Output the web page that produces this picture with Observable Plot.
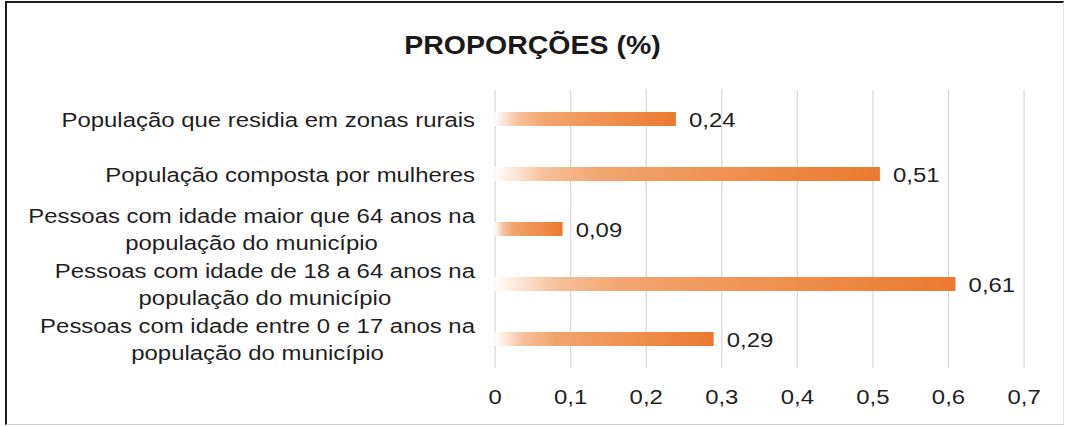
<!DOCTYPE html>
<html>
<head>
<meta charset="utf-8">
<script src="https://cdn.jsdelivr.net/npm/d3@7"></script>
<script src="https://cdn.jsdelivr.net/npm/@observablehq/plot@0.6"></script>
<style>
  html, body { margin: 0; padding: 0; background: #fff; width: 1066px; height: 427px; overflow: hidden; }
  body { position: relative; font-family: "Liberation Sans", Arial, sans-serif; }
  #frame { position: absolute; left: 5px; top: 1px; width: 1059px; height: 424px; border-top: 2px solid #1a1a1a; border-left: 2px solid #1a1a1a; border-right: 1px solid #e4e4e4; border-bottom: 1px solid #cfcfcf; box-sizing: border-box; pointer-events: none; }
  #cover { position: absolute; left: 1064px; top: 0; width: 2px; height: 427px; background: #fff; }
  #titlewrap { position: absolute; left: 3px; top: 33px; width: 1060px; text-align: center; }
  #title { display: inline-block; font: bold 25px/25px "Liberation Sans", Arial, sans-serif; color: #1a1a1a; transform: scaleX(1.14); transform-origin: 50% 50%; }
  #chart { position: absolute; left: 0; top: 70px; width: 935px; transform: scaleX(1.14); transform-origin: 0 0; }
</style>
</head>
<body>
<div id="titlewrap"><div id="title">PROPORÇÕES (%)</div></div>
<div id="chart"></div>
<div id="frame"></div>
<div id="cover"></div>
<script>
const categories = [
  "População que residia em zonas rurais",
  "População composta por mulheres",
  "Pessoas com idade maior que 64 anos na\npopulação do município",
  "Pessoas com idade de 18 a 64 anos na\npopulação do município",
  "Pessoas com idade entre 0 e 17 anos na\npopulação do município"
];
const values = [0.24, 0.51, 0.09, 0.61, 0.29];
const valueLabels = ["0,24", "0,51", "0,09", "0,61", "0,29"];
const xTicks = [0, 0.1, 0.2, 0.3, 0.4, 0.5, 0.6, 0.7];
const xTickLabels = ["0", "0,1", "0,2", "0,3", "0,4", "0,5", "0,6", "0,7"];

const rows = categories.map((cat, i) => ({cat, value: values[i], label: valueLabels[i]}));

const FONT_SIZE = 21;
const TEXT_COLOR = "#1f1f1f";
const ctx = document.createElement("canvas").getContext("2d");
ctx.font = `${FONT_SIZE}px "Liberation Sans"`;
const textWidth = s => Math.max(...s.split("\n").map(l => ctx.measureText(l).width));
const LABEL_GAP = 17.5;

const labelMarks = rows.map(r => Plot.text([r], {
  y: "cat",
  text: "cat",
  frameAnchor: "left",
  textAnchor: "middle",
  lineAnchor: "middle",
  lineHeight: 1.28,
  dx: -(LABEL_GAP + textWidth(r.cat) / 2),
  dy: -1.5,
  fill: TEXT_COLOR
}));

const plot = Plot.plot({
  width: 935,
  height: 357,
  marginTop: 20,
  marginBottom: 59,
  marginLeft: 433.8,
  marginRight: 37.2,
  style: {fontFamily: "Liberation Sans", fontSize: FONT_SIZE + "px", color: TEXT_COLOR, background: "none", overflow: "visible"},
  x: {
    domain: [0, 0.7],
    ticks: xTicks,
    tickFormat: d => xTickLabels[xTicks.indexOf(d)],
    tickSize: 0,
    tickPadding: 21,
    label: null
  },
  y: {
    domain: categories,
    axis: null,
    paddingInner: 0.75,
    paddingOuter: 0.375
  },
  marks: [
    Plot.ruleX(xTicks, {stroke: "#d4d4d4", strokeWidth: 1}),
    Plot.barX(rows, {x: "value", y: "cat", fill: "url(#barGrad)"}),
    Plot.text(rows, {x: "value", y: "cat", text: "label", textAnchor: "start", dx: 11, dy: 1, fill: TEXT_COLOR}),
    ...labelMarks
  ]
});

const defs = d3.select(plot).insert("defs", ":first-child");
const grad = defs.append("linearGradient").attr("id", "barGrad").attr("x1", "0").attr("x2", "1").attr("y1", "0").attr("y2", "0");
[[0, "#ffffff"], [0.13, "#f6c19b"], [0.28, "#f2a46d"], [1, "#eb792e"]].forEach(([o, c]) =>
  grad.append("stop").attr("offset", o).attr("stop-color", c));

document.getElementById("chart").appendChild(plot);
</script>
</body>
</html>
